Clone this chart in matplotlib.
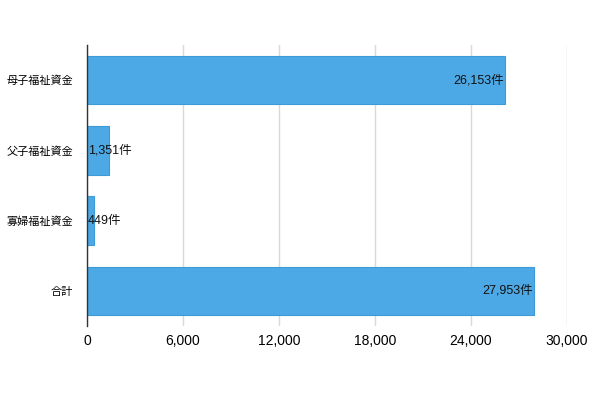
import matplotlib
matplotlib.use('Agg')
import matplotlib.pyplot as plt
from matplotlib.ticker import FuncFormatter

plt.rcParams['font.family'] = ['Liberation Sans', 'Noto Sans CJK JP']

categories = ['母子福祉資金', '父子福祉資金', '寡婦福祉資金', '合計']
counts = [26153, 1351, 449, 27953]
xticks = [0, 6000, 12000, 18000, 24000, 30000]

fig = plt.figure(figsize=(6, 4), dpi=100)
ax = fig.add_axes([0.145, 0.185, 0.8, 0.7025])

ypos = list(range(len(categories)))
ax.barh(ypos, counts, height=0.69, color='#4DA9E6', edgecolor='#3D9AD8',
        linewidth=0.8, zorder=3)

for y, v in zip(ypos, counts):
    label = f'{v:,}件'
    if v > 5000:
        ax.text(v - 100, y, label, ha='right', va='center', fontsize=9,
                color='#111111', zorder=4)
    else:
        ax.text(60, y, label, ha='left', va='center', fontsize=9,
                color='#111111', zorder=4)

ax.set_xlim(0, 30000)
ax.set_ylim(3.5, -0.5)
ax.set_yticks(ypos)
ax.set_yticklabels(categories, fontsize=8)
ax.set_xticks(xticks)
ax.xaxis.set_major_formatter(FuncFormatter(lambda x, p: f'{int(x):,}'))
ax.tick_params(axis='x', labelsize=10, length=0, pad=6)
ax.tick_params(axis='y', length=0, pad=10)
ax.grid(axis='x', color='#D9D9D9', linewidth=1, zorder=0)
for s in ['top', 'right', 'bottom']:
    ax.spines[s].set_visible(False)
ax.spines['left'].set_color('#333333')
ax.spines['left'].set_linewidth(1)
ax.spines['left'].set_zorder(5)

fig.savefig('out.png', dpi=100)
